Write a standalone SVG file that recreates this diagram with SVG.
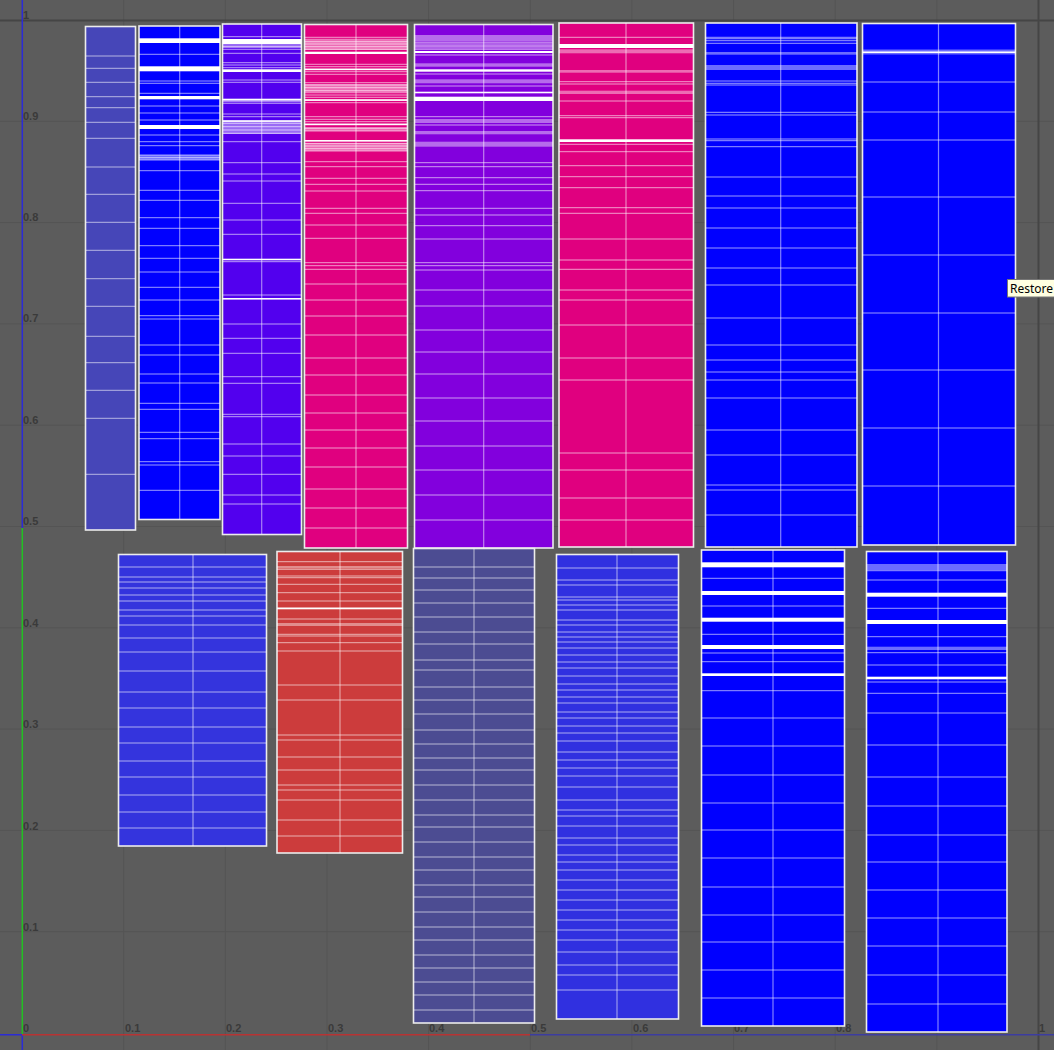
<svg xmlns="http://www.w3.org/2000/svg" width="1054" height="1050" viewBox="0 0 1054 1050">
<style>
.grid{stroke:#545454;stroke-width:1;fill:none}
.lbl{font-family:"Liberation Sans",Arial,sans-serif;font-size:11px;font-weight:bold;fill:#3a3a3a}
.bx{stroke:#ececec;stroke-width:1.6}
.ln{stroke:#ffffff;stroke-opacity:.6;stroke-width:1;fill:none}
.dv{stroke:#ffffff;stroke-opacity:.5;stroke-width:1.2;fill:none}
.wb{fill:#ffffff}
.lb{fill:#ffffff;fill-opacity:.42}
</style>
<rect width="1054" height="1050" fill="#5c5c5c"/>
<g id="grid">
<path class="grid" d="M123.7 0V1050M225.3 0V1050M327 0V1050M428.6 0V1050M530.3 0V1050M631.9 0V1050M733.6 0V1050M835.2 0V1050M936.9 0V1050M0 931.7H1054M0 830.4H1054M0 729.1H1054M0 627.8H1054M0 526.5H1054M0 425.2H1054M0 323.9H1054M0 222.6H1054M0 121.3H1054"/>
<path d="M0 20.5H1054M1038.5 0V1050" stroke="#454545" stroke-width="2" fill="none"/>
</g>
<g id="labels">
<text class="lbl" x="23" y="19">1</text>
<text class="lbl" x="23" y="120">0.9</text>
<text class="lbl" x="23" y="221">0.8</text>
<text class="lbl" x="23" y="322">0.7</text>
<text class="lbl" x="23" y="424">0.6</text>
<text class="lbl" x="23" y="525">0.5</text>
<text class="lbl" x="23" y="627">0.4</text>
<text class="lbl" x="23" y="728">0.3</text>
<text class="lbl" x="23" y="830">0.2</text>
<text class="lbl" x="23" y="931">0.1</text>
<text class="lbl" x="23" y="1032">0</text>
<text class="lbl" x="125" y="1032">0.1</text>
<text class="lbl" x="226" y="1032">0.2</text>
<text class="lbl" x="328" y="1032">0.3</text>
<text class="lbl" x="429" y="1032">0.4</text>
<text class="lbl" x="531" y="1032">0.5</text>
<text class="lbl" x="633" y="1032">0.6</text>
<text class="lbl" x="734" y="1032">0.7</text>
<text class="lbl" x="836" y="1032">0.8</text>
<text class="lbl" x="1039" y="1032">1</text>
</g>
<g id="axes">
<path d="M22.3 0V528M22.3 1034V1050M0 1034.7H22" stroke="#2b2bd6" stroke-width="1.5" fill="none"/>
<path d="M22.3 528V1034" stroke="#22c022" stroke-width="1.5" fill="none"/>
<path d="M22 1034.7H530" stroke="#b83333" stroke-width="1.5" fill="none"/>
<path d="M530 1034.7H1054" stroke="#3c3ca0" stroke-width="1.5" fill="none"/>
</g>

<g id="islandA">
<rect class="bx" x="85.5" y="26.5" width="50" height="503.5" fill="#4646b8"/>
<path class="ln" d="M86 56H135M86 68.3H135M86 82.3H135M86 96.7H135M86 107.7H135M86 122.3H135M86 138.3H135M86 167H135M86 194.3H135M86 222.3H135M86 250.3H135M86 278.7H135M86 306.3H135M86 336.3H135M86 362.7H135M86 390.3H135M86 418.3H135M86 474.3H135"/>
</g>

<g id="islandB">
<rect class="bx" x="139" y="26" width="81" height="493.5" fill="#0000ff"/>
<path class="dv" d="M179.7 26V519.5"/>
<path class="ln" d="M139 54.3H220M139 81H220M139 83.3H220M139 93.3H220M139 106H220M139 113H220M139 120H220M139 135H220M139 141.7H220M139 145.7H220M139 155H220M139 157.7H220M139 160H220M139 170.7H220M139 190.3H220M139 200.3H220M139 217.7H220M139 228.3H220M139 245.7H220M139 258.3H220M139 272H220M139 287.3H220M139 300H220M139 315.7H220M139 319H220M139 345H220M139 355H220M139 374H220M139 383H220M139 403.3H220M139 409.3H220M139 432.3H220M139 438.7H220M139 461.7H220M139 465H220M139 490.3H220"/>
<rect class="wb" x="139" y="38.3" width="81" height="4.7"/>
<rect class="wb" x="139" y="66.3" width="81" height="5"/>
<rect class="wb" x="139" y="96" width="81" height="3.3"/>
<rect class="wb" x="139" y="125" width="81" height="4"/>
<rect class="lb" x="139" y="155" width="81" height="5"/>
</g>

<g id="islandC">
<rect class="bx" x="222.5" y="24" width="79" height="510.5" fill="#5200ee"/>
<path class="dv" d="M261.7 24V534"/>
<path class="ln" d="M222.5 36.7H301.5M222.5 46.7H301.5M222.5 49.3H301.5M222.5 53.3H301.5M222.5 62.7H301.5M222.5 65H301.5M222.5 67.7H301.5M222.5 80H301.5M222.5 82.3H301.5M222.5 101.7H301.5M222.5 103.3H301.5M222.5 114H301.5M222.5 116.7H301.5M222.5 123.3H301.5M222.5 126.7H301.5M222.5 130H301.5M222.5 133.3H301.5M222.5 141.7H301.5M222.5 162.7H301.5M222.5 174H301.5M222.5 181H301.5M222.5 203.3H301.5M222.5 220H301.5M222.5 234.3H301.5M222.5 261.7H301.5M222.5 295H301.5M222.5 324H301.5M222.5 338.3H301.5M222.5 353.3H301.5M222.5 376.7H301.5M222.5 383.3H301.5M222.5 414.3H301.5M222.5 416.7H301.5M222.5 444H301.5M222.5 456H301.5M222.5 474.3H301.5M222.5 495H301.5M222.5 504H301.5"/>
<rect class="wb" x="222.5" y="39" width="79" height="5"/>
<rect class="wb" x="222.5" y="69.3" width="79" height="2.7"/>
<rect class="wb" x="222.5" y="98.7" width="79" height="2"/>
<rect class="wb" x="222.5" y="120.3" width="79" height="1.6"/>
<rect class="wb" x="222.5" y="258.7" width="79" height="1.6"/>
<rect class="wb" x="222.5" y="298" width="79" height="1.6"/>
<rect class="lb" x="222.5" y="44" width="79" height="4"/>
<rect class="lb" x="222.5" y="120" width="79" height="14"/>
</g>

<g id="islandD">
<rect class="bx" x="304.5" y="24.5" width="103" height="523.5" fill="#e0007f"/>
<path class="dv" d="M356 24.5V548"/>
<path class="ln" d="M304.5 37.3H407.5M304.5 39.3H407.5M304.5 41.7H407.5M304.5 44H407.5M304.5 46.7H407.5M304.5 49.3H407.5M304.5 64.3H407.5M304.5 66.7H407.5M304.5 69.3H407.5M304.5 71.7H407.5M304.5 74.3H407.5M304.5 82.7H407.5M304.5 85H407.5M304.5 87.7H407.5M304.5 90.7H407.5M304.5 92.7H407.5M304.5 95H407.5M304.5 97.3H407.5M304.5 100H407.5M304.5 102.7H407.5M304.5 116.7H407.5M304.5 119.3H407.5M304.5 121.7H407.5M304.5 124.3H407.5M304.5 128.3H407.5M304.5 131H407.5M304.5 140.7H407.5M304.5 143.3H407.5M304.5 146H407.5M304.5 148.7H407.5M304.5 151H407.5M304.5 161.7H407.5M304.5 166.7H407.5M304.5 178.3H407.5M304.5 184.3H407.5M304.5 191H407.5M304.5 208.3H407.5M304.5 213.3H407.5M304.5 225H407.5M304.5 238.3H407.5M304.5 262.7H407.5M304.5 265.7H407.5M304.5 269.3H407.5M304.5 284H407.5M304.5 300H407.5M304.5 316H407.5M304.5 335H407.5M304.5 358H407.5M304.5 375H407.5M304.5 395H407.5M304.5 413H407.5M304.5 430H407.5M304.5 448H407.5M304.5 467H407.5M304.5 489H407.5M304.5 508H407.5M304.5 528H407.5"/>
<rect class="lb" x="304.5" y="40" width="103" height="10"/>
<rect class="wb" x="304.5" y="51.7" width="103" height="2.3"/>
<rect class="wb" x="304.5" y="68.6" width="103" height="1.6"/>
<rect class="lb" x="304.5" y="84" width="103" height="8"/>
<rect class="wb" x="304.5" y="99.3" width="103" height="1.6"/>
<rect class="wb" x="304.5" y="123.6" width="103" height="1.6"/>
<rect class="lb" x="304.5" y="127" width="103" height="4"/>
<rect class="wb" x="304.5" y="140" width="103" height="1.6"/>
<rect class="lb" x="304.5" y="143" width="103" height="8"/>
</g>

<g id="islandE">
<rect class="bx" x="414.5" y="24.5" width="138.5" height="523.5" fill="#8200dd"/>
<path class="dv" d="M483.7 24.5V548"/>
<path class="ln" d="M414.5 42.7H553M414.5 44H553M414.5 45.3H553M414.5 46.7H553M414.5 48H553M414.5 49.3H553M414.5 55H553M414.5 74H553M414.5 86H553M414.5 116.7H553M414.5 125H553M414.5 162.7H553M414.5 166.7H553M414.5 177.7H553M414.5 184.3H553M414.5 190.7H553M414.5 208.3H553M414.5 215H553M414.5 225.7H553M414.5 239H553M414.5 262.7H553M414.5 265.7H553M414.5 270H553M414.5 290H553M414.5 306H553M414.5 330H553M414.5 352H553M414.5 374H553M414.5 398H553M414.5 421H553M414.5 446H553M414.5 470H553M414.5 495H553M414.5 520H553"/>
<rect class="lb" x="414.5" y="35" width="138.5" height="6.7"/>
<rect class="wb" x="414.5" y="51" width="138.5" height="2"/>
<rect class="lb" x="414.5" y="63.3" width="138.5" height="3.4"/>
<rect class="wb" x="414.5" y="69.3" width="138.5" height="2.4"/>
<rect class="lb" x="414.5" y="79.3" width="138.5" height="4"/>
<rect class="wb" x="414.5" y="91.7" width="138.5" height="1.6"/>
<rect class="wb" x="414.5" y="96.7" width="138.5" height="4.3"/>
<rect class="lb" x="414.5" y="119" width="138.5" height="4"/>
<rect class="lb" x="414.5" y="131" width="138.5" height="3.3"/>
<rect class="lb" x="414.5" y="141.7" width="138.5" height="5"/>
</g>

<g id="islandF">
<rect class="bx" x="559" y="23" width="134.5" height="524" fill="#e0007f"/>
<path class="dv" d="M626 23V547"/>
<path class="ln" d="M559 37.3H693.5M559 81.7H693.5M559 84H693.5M559 101H693.5M559 115.7H693.5M559 117.7H693.5M559 144.3H693.5M559 151.7H693.5M559 165.7H693.5M559 176.7H693.5M559 187.7H693.5M559 207.7H693.5M559 213.3H693.5M559 239H693.5M559 260H693.5M559 269.3H693.5M559 290H693.5M559 300H693.5M559 325H693.5M559 358H693.5M559 380H693.5M559 453H693.5M559 470H693.5M559 498H693.5M559 520H693.5"/>
<rect class="wb" x="559" y="44" width="134.5" height="4"/>
<rect class="lb" x="559" y="49.3" width="134.5" height="4"/>
<rect class="lb" x="559" y="70" width="134.5" height="2.7"/>
<rect class="lb" x="559" y="90.7" width="134.5" height="3.3"/>
<rect class="wb" x="559" y="139.3" width="134.5" height="2.7"/>
</g>

<g id="islandG">
<rect class="bx" x="705.5" y="23" width="151.5" height="524" fill="#0000ff"/>
<path class="dv" d="M780.7 23V547"/>
<path class="ln" d="M705.5 37.3H857M705.5 38.7H857M705.5 40.7H857M705.5 43.3H857M705.5 81H857M705.5 83.3H857M705.5 85H857M705.5 112.3H857M705.5 115H857M705.5 139H857M705.5 140.7H857M705.5 146.7H857M705.5 177H857M705.5 196H857M705.5 208H857M705.5 228H857M705.5 248H857M705.5 268H857M705.5 285H857M705.5 318H857M705.5 345H857M705.5 360H857M705.5 372H857M705.5 380H857M705.5 398H857M705.5 430H857M705.5 455H857M705.5 485H857M705.5 490H857M705.5 515H857"/>
<rect class="lb" x="705.5" y="52" width="151.5" height="2.7"/>
<rect class="lb" x="705.5" y="65" width="151.5" height="5"/>
</g>

<g id="islandH">
<rect class="bx" x="862.5" y="23.5" width="153" height="521.5" fill="#0000ff"/>
<path class="dv" d="M938.5 23.5V545"/>
<path class="ln" d="M862.5 82H1015.5M862.5 112H1015.5M862.5 140H1015.5M862.5 197H1015.5M862.5 255H1015.5M862.5 313H1015.5M862.5 370H1015.5M862.5 428H1015.5M862.5 486H1015.5"/>
<rect class="lb" x="862.5" y="49.5" width="153" height="5"/>
<rect class="wb" x="862.5" y="51.5" width="153" height="1.5"/>
</g>

<g id="islandI">
<rect class="bx" x="118.5" y="554.5" width="148" height="291.5" fill="#3434dd"/>
<path class="dv" d="M193 554.5V846"/>
<path class="ln" d="M118.5 567H266.5M118.5 577H266.5M118.5 582H266.5M118.5 588H266.5M118.5 595H266.5M118.5 601H266.5M118.5 610H266.5M118.5 616H266.5M118.5 625H266.5M118.5 638H266.5M118.5 652H266.5M118.5 671H266.5M118.5 692H266.5M118.5 708H266.5M118.5 727H266.5M118.5 743H266.5M118.5 761H266.5M118.5 777H266.5M118.5 795H266.5M118.5 812H266.5M118.5 828H266.5"/>
</g>

<g id="islandJ">
<rect class="bx" x="277" y="551.5" width="125.5" height="301.5" fill="#cc3c3c"/>
<path class="dv" d="M340 551.5V853" stroke-opacity=".15"/>
<path class="ln" d="M277 561.7H402.5M277 569.3H402.5M277 576H402.5M277 577.7H402.5M277 584.3H402.5M277 592.7H402.5M277 601H402.5M277 619H402.5M277 634.3H402.5M277 636H402.5M277 642.7H402.5M277 651H402.5M277 685H402.5M277 700H402.5M277 735H402.5M277 740H402.5M277 757H402.5M277 770H402.5M277 785H402.5M277 790H402.5M277 800H402.5M277 820H402.5M277 836H402.5"/>
<rect class="lb" x="277" y="566" width="125.5" height="2.5"/>
<rect class="lb" x="277" y="623" width="125.5" height="3"/>
<rect class="wb" x="277" y="607.5" width="125.5" height="1.8"/>
</g>

<g id="islandK">
<rect class="bx" x="413.5" y="548.5" width="121" height="474.5" fill="#4c4c92"/>
<path class="dv" d="M474 548.5V1023"/>
<path class="ln" d="M413.5 567H534.5M413.5 578H534.5M413.5 590H534.5M413.5 603H534.5M413.5 617H534.5M413.5 632H534.5M413.5 644H534.5M413.5 660H534.5M413.5 670H534.5M413.5 687H534.5M413.5 700H534.5M413.5 714H534.5M413.5 730H534.5M413.5 744H534.5M413.5 758H534.5M413.5 770H534.5M413.5 785H534.5M413.5 800H534.5M413.5 815H534.5M413.5 827H534.5M413.5 842H534.5M413.5 857H534.5M413.5 870H534.5M413.5 885H534.5M413.5 897H534.5M413.5 912H534.5M413.5 927H534.5M413.5 940H534.5M413.5 955H534.5M413.5 968H534.5M413.5 982H534.5M413.5 995H534.5M413.5 1010H534.5"/>
</g>

<g id="islandL">
<rect class="bx" x="556.5" y="554.5" width="122" height="464.5" fill="#3030e0"/>
<path class="dv" d="M617 554.5V1019"/>
<path class="ln" d="M556.5 568H678.5M556.5 580H678.5M556.5 585H678.5M556.5 597H678.5M556.5 600H678.5M556.5 605H678.5M556.5 610H678.5M556.5 620H678.5M556.5 625H678.5M556.5 632H678.5M556.5 637H678.5M556.5 642H678.5M556.5 648H678.5M556.5 655H678.5M556.5 662H678.5M556.5 668H678.5M556.5 676H678.5M556.5 684H678.5M556.5 690H678.5M556.5 697H678.5M556.5 703H678.5M556.5 712H678.5M556.5 718H678.5M556.5 726H678.5M556.5 733H678.5M556.5 741H678.5M556.5 752H678.5M556.5 760H678.5M556.5 768H678.5M556.5 776H678.5M556.5 787H678.5M556.5 800H678.5M556.5 810H678.5M556.5 816H678.5M556.5 826H678.5M556.5 838H678.5M556.5 845H678.5M556.5 855H678.5M556.5 862H678.5M556.5 870H678.5M556.5 880H678.5M556.5 890H678.5M556.5 900H678.5M556.5 910H678.5M556.5 920H678.5M556.5 930H678.5M556.5 940H678.5M556.5 952H678.5M556.5 965H678.5M556.5 975H678.5M556.5 990H678.5"/>
</g>

<g id="islandM">
<rect class="bx" x="701.5" y="550" width="143" height="476" fill="#0000ff"/>
<path class="dv" d="M773 550V1026"/>
<path class="ln" d="M701.5 578.3H844.5M701.5 606H844.5M701.5 634.3H844.5M701.5 653H844.5M701.5 661.7H844.5M701.5 690.7H844.5M701.5 718H844.5M701.5 746H844.5M701.5 775H844.5M701.5 803H844.5M701.5 830H844.5M701.5 858H844.5M701.5 887H844.5M701.5 915H844.5M701.5 942H844.5M701.5 970H844.5M701.5 998H844.5"/>
<rect class="wb" x="701.5" y="562.3" width="143" height="5"/>
<rect class="wb" x="701.5" y="591" width="143" height="4"/>
<rect class="wb" x="701.5" y="617.7" width="143" height="4"/>
<rect class="wb" x="701.5" y="645" width="143" height="4"/>
<rect class="wb" x="701.5" y="673.3" width="143" height="2.7"/>
</g>

<g id="islandN">
<rect class="bx" x="866.5" y="551.5" width="140.5" height="480.5" fill="#0000ff"/>
<path class="dv" d="M938 551.5V1032"/>
<path class="ln" d="M866.5 570.7H1007M866.5 580H1007M866.5 608.3H1007M866.5 636.7H1007M866.5 652.7H1007M866.5 665H1007M866.5 682H1007M866.5 693.3H1007M866.5 713H1007M866.5 745H1007M866.5 777H1007M866.5 806H1007M866.5 835H1007M866.5 862H1007M866.5 890H1007M866.5 918H1007M866.5 946H1007M866.5 975H1007M866.5 1004H1007"/>
<rect class="lb" x="866.5" y="564" width="140.5" height="6"/>
<rect class="wb" x="866.5" y="592.7" width="140.5" height="4"/>
<rect class="wb" x="866.5" y="620" width="140.5" height="4"/>
<rect class="lb" x="866.5" y="646.7" width="140.5" height="3.3"/>
<rect class="wb" x="866.5" y="676.7" width="140.5" height="2.6"/>
</g>

<g id="tooltip">
<rect x="1007.5" y="279.5" width="60" height="17.5" fill="#ffffe1" stroke="#767676" stroke-width="1"/>
<text x="1010" y="292.5" font-family="'Noto Sans','Liberation Sans',sans-serif" font-size="12" fill="#000">Restore</text>
</g>
</svg>
